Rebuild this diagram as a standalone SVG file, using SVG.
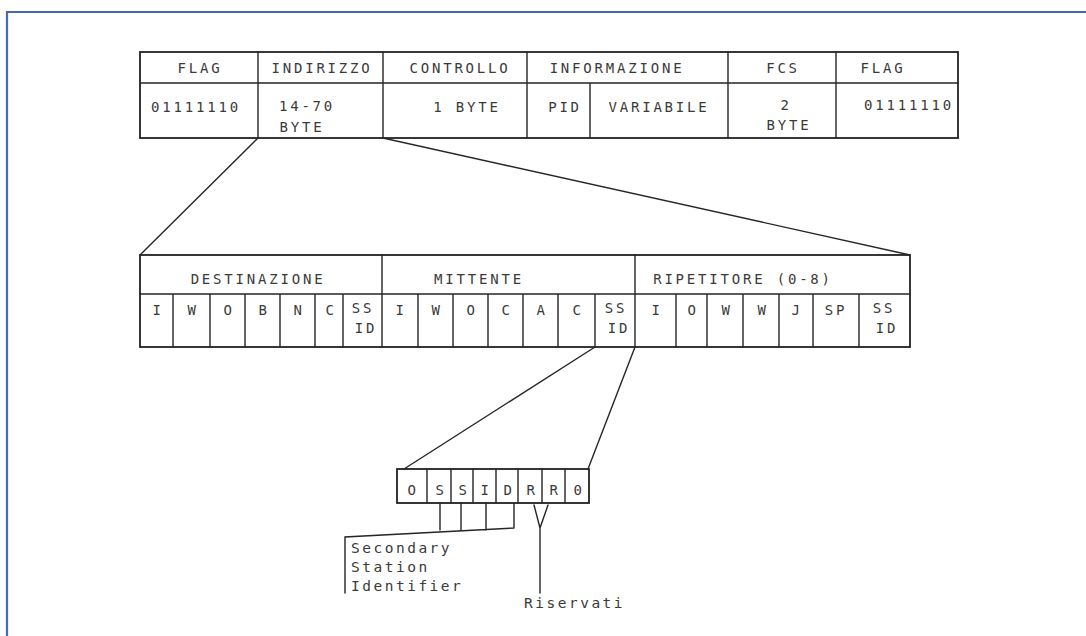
<svg xmlns="http://www.w3.org/2000/svg" width="1086" height="636" viewBox="0 0 1086 636">
<style>
.ln{stroke:#262626;stroke-width:1.4;fill:none;stroke-linecap:round}
.bx{stroke:#222;stroke-width:1.8;fill:none}
.t{font-family:"DejaVu Sans Mono","Liberation Mono",monospace;font-size:14px;fill:#3a3a3a;letter-spacing:2.8px;text-anchor:middle}
.tl{font-family:"DejaVu Sans Mono","Liberation Mono",monospace;font-size:14.5px;fill:#3a3a3a;letter-spacing:2.5px}
.frame{stroke:#4a68b8;stroke-width:2.2;fill:none}
</style>
<rect width="1086" height="636" fill="#ffffff"/>
<path class="frame" d="M7,636 V12 H1086"/>

<g id="frame-table">
<rect class="bx" x="140" y="52" width="818" height="86"/>
<path class="ln" d="M140,83 H958 M258,52 V138 M383,52 V138 M527,52 V138 M728,52 V138 M836,52 V138 M590,83 V138"/>
<text class="t" x="200" y="73">FLAG</text>
<text class="t" x="322" y="73">INDIRIZZO</text>
<text class="t" x="460" y="73">CONTROLLO</text>
<text class="t" x="617" y="73">INFORMAZIONE</text>
<text class="t" x="783" y="73">FCS</text>
<text class="t" x="883" y="73">FLAG</text>
<text class="t" x="196" y="112">01111110</text>
<text class="t" x="307" y="111">14-70</text>
<text class="t" x="302" y="132">BYTE</text>
<text class="t" x="467" y="112">1 BYTE</text>
<text class="t" x="565" y="112">PID</text>
<text class="t" x="659" y="112">VARIABILE</text>
<text class="t" x="786" y="110">2</text>
<text class="t" x="789" y="130">BYTE</text>
<text class="t" x="909" y="110">01111110</text>
</g>

<g id="address-table">
<rect class="bx" x="140" y="255" width="770" height="92"/>
<path class="ln" d="M140,294 H910 M382,255 V347 M635,255 V347 M173,294 V347 M210,294 V347 M245,294 V347 M280,294 V347 M315,294 V347 M343,294 V347 M418,294 V347 M453,294 V347 M488,294 V347 M523,294 V347 M558,294 V347 M595,294 V347 M676,294 V347 M707,294 V347 M743,294 V347 M779,294 V347 M813,294 V347 M859,294 V347"/>
<text class="t" x="258" y="284">DESTINAZIONE</text>
<text class="t" x="479" y="284">MITTENTE</text>
<text class="t" x="743" y="284">RIPETITORE (0-8)</text>
<text class="t" x="158" y="315">I</text>
<text class="t" x="193" y="315">W</text>
<text class="t" x="229" y="315">O</text>
<text class="t" x="264" y="315">B</text>
<text class="t" x="299" y="315">N</text>
<text class="t" x="331" y="315">C</text>
<text class="t" x="363" y="313">SS</text>
<text class="t" x="366" y="333">ID</text>
<text class="t" x="401" y="315">I</text>
<text class="t" x="437" y="315">W</text>
<text class="t" x="472" y="315">O</text>
<text class="t" x="507" y="315">C</text>
<text class="t" x="542" y="315">A</text>
<text class="t" x="578" y="315">C</text>
<text class="t" x="616" y="313">SS</text>
<text class="t" x="619" y="333">ID</text>
<text class="t" x="657" y="315">I</text>
<text class="t" x="693" y="315">O</text>
<text class="t" x="727" y="315">W</text>
<text class="t" x="763" y="315">W</text>
<text class="t" x="797" y="315">J</text>
<text class="t" x="836" y="315">SP</text>
<text class="t" x="884" y="313">SS</text>
<text class="t" x="887" y="333">ID</text>
</g>

<g id="ssid-byte">
<rect class="bx" x="397" y="469" width="192" height="34"/>
<path class="ln" d="M427,469 V503 M451,469 V503 M473,469 V503 M496,469 V503 M518,469 V503 M542,469 V503 M565,469 V503"/>
<text class="t" x="413" y="495">O</text>
<text class="t" x="441" y="495">S</text>
<text class="t" x="464" y="495">S</text>
<text class="t" x="486" y="495">I</text>
<text class="t" x="509" y="495">D</text>
<text class="t" x="532" y="495">R</text>
<text class="t" x="555" y="495">R</text>
<text class="t" x="579" y="495">0</text>
</g>

<g id="label-ssi">
<text class="tl" x="351" y="553">Secondary</text>
<text class="tl" x="351" y="572">Station</text>
<text class="tl" x="351" y="591">Identifier</text>
</g>

<g id="label-riservati">
<text class="tl" x="524" y="608">Riservati</text>
</g>

<g id="connectors">
<path class="ln" d="M258,138 L140,255"/>
<path class="ln" d="M383,138 L910,255"/>
<path class="ln" d="M595,347 L404,469"/>
<path class="ln" d="M635,347 L588,469"/>
<path class="ln" d="M440,503 V530 M461,503 V530 M486,503 V530 M514,503 V528 M514,528 L345,537 V593"/>
<path class="ln" d="M534,505 L540,528 L548,505 M540,528 V593"/>
</g>
</svg>
